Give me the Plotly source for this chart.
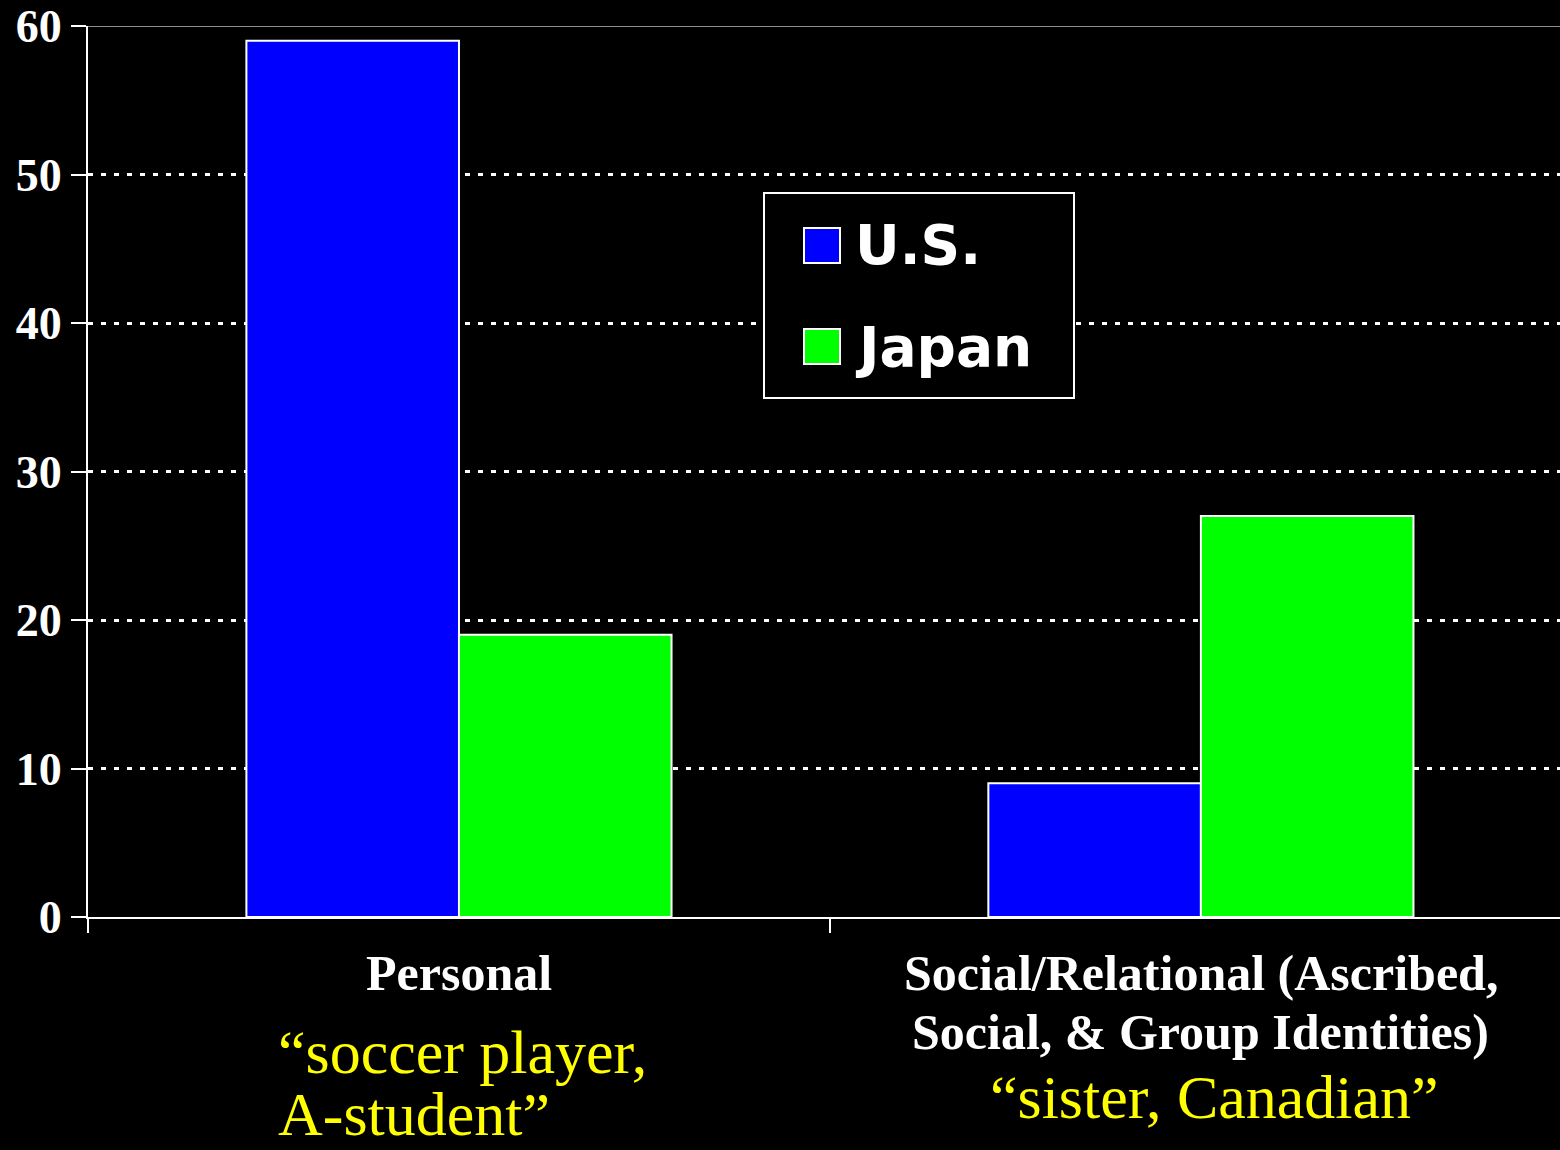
import plotly.graph_objects as go

categories = ["Personal", "Social/Relational"]
series_names = ["U.S.", "Japan"]
us_values = [59, 9]
japan_values = [19, 27]
y_ticks = [0, 10, 20, 30, 40, 50, 60]
cat_label_lines = [["Personal"], ["Social/Relational (Ascribed,", "Social, & Group Identities)"]]
example_lines = [["\u201csoccer player,", "A-student\u201d"], ["\u201csister, Canadian\u201d"]]

BLUE = "#0000FF"
GREEN = "#00FF00"
SERIF = "Liberation Serif, Times New Roman, serif"
SANS = "DejaVu Sans, Arial Black, sans-serif"

W, H = 1560, 1150
L, T, B = 88, 26, 233
PW = W - L
PH = H - T - B

def px_x(p):
    return (p - L) / PW

def px_y(p):
    return (H - B - p) / PH

fig = go.Figure()
fig.add_trace(go.Bar(x=categories, y=us_values, name=series_names[0],
                     marker=dict(color=BLUE, line=dict(color="white", width=2))))
fig.add_trace(go.Bar(x=categories, y=japan_values, name=series_names[1],
                     marker=dict(color=GREEN, line=dict(color="white", width=2))))

shapes = []
# top border line
shapes.append(dict(type="line", xref="paper", yref="y", x0=0, x1=1, y0=60, y1=60,
                   line=dict(color="#bbbbbb", width=1.5), layer="below"))
# legend box
shapes.append(dict(type="rect", xref="paper", yref="paper",
                   x0=px_x(764), x1=px_x(1074), y0=px_y(398), y1=px_y(193),
                   line=dict(color="white", width=2), fillcolor="black", layer="above"))
# legend swatches
for (ytop, ybot), col in zip([(228, 263), (329, 364)], [BLUE, GREEN]):
    shapes.append(dict(type="rect", xref="paper", yref="paper",
                       x0=px_x(804), x1=px_x(840), y0=px_y(ybot), y1=px_y(ytop),
                       line=dict(color="white", width=2), fillcolor=col, layer="above"))

annotations = []
for name, yc in zip(series_names, [245, 347]):
    annotations.append(dict(text=name, xref="paper", yref="paper", x=px_x(853), y=px_y(yc),
                            xanchor="left", yanchor="middle", showarrow=False,
                            font=dict(family=SANS, size=55, color="white", weight="bold")))

# category labels
cat_centers = [0, 1]
line_y = [973, 1032]
for ci, lines in enumerate(cat_label_lines):
    for li, txt in enumerate(lines):
        annotations.append(dict(text=txt, xref="x", yref="paper", x=cat_centers[ci],
                                y=px_y(line_y[li]), xanchor="center", yanchor="middle",
                                showarrow=False,
                                font=dict(family=SERIF, size=50, color="white", weight="bold")))

# yellow example texts
annotations.append(dict(text=example_lines[0][0], xref="paper", yref="paper", x=px_x(276),
                        y=px_y(1052), xanchor="left", yanchor="middle",
                        showarrow=False, font=dict(family=SERIF, size=62, color="#FFFF00")))
annotations.append(dict(text=example_lines[0][1], xref="paper", yref="paper", x=px_x(276),
                        y=px_y(1150), xanchor="left", yanchor="bottom",
                        showarrow=False, font=dict(family=SERIF, size=62, color="#FFFF00")))
annotations.append(dict(text=example_lines[1][0], xref="x", yref="paper", x=1.018,
                        y=px_y(1097), xanchor="center", yanchor="middle",
                        showarrow=False, font=dict(family=SERIF, size=62, color="#FFFF00")))

fig.update_layout(
    width=W, height=H,
    margin=dict(l=L, r=0, t=T, b=B, pad=0),
    paper_bgcolor="black", plot_bgcolor="black",
    barmode="group", bargap=0.427, bargroupgap=0,
    showlegend=False,
    shapes=shapes, annotations=annotations,
    xaxis=dict(range=[-0.5, 1.484], showticklabels=False, showgrid=False, zeroline=False,
               showline=True, linecolor="white", linewidth=2,
               ticks="outside", tickson="boundaries", ticklen=14, tickwidth=2, tickcolor="white"),
    yaxis=dict(range=[0, 60], tickvals=y_ticks, showgrid=True, gridcolor="white", gridwidth=3,
               griddash="5px,8px", zeroline=False, showline=True, linecolor="white", linewidth=2,
               ticks="outside", ticklen=15, tickwidth=2, tickcolor="white",
               tickfont=dict(family=SERIF, size=46, color="white", weight="bold")),
)

fig.write_html("out.html")
